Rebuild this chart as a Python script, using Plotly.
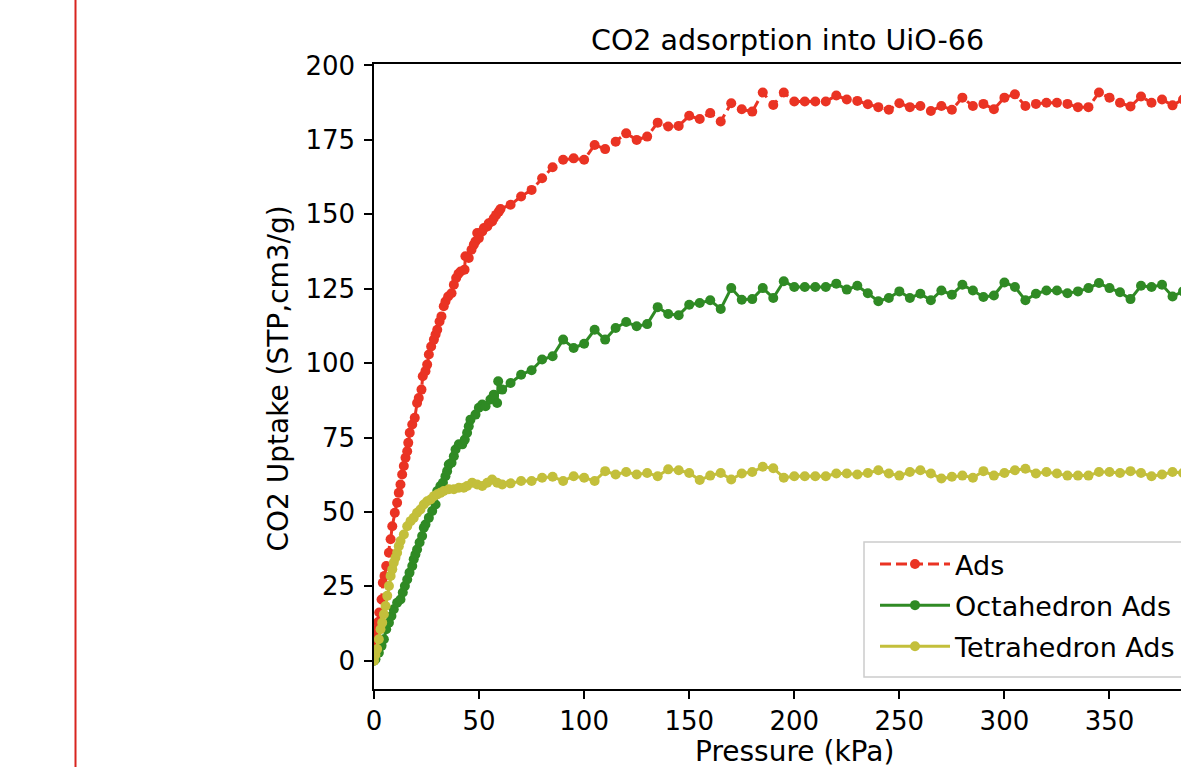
import plotly.graph_objects as go

# ---------------- data ----------------
ads_x = [0.0, 0.7, 1.3, 2.0, 2.5, 3.6, 4.2, 5.0, 5.8, 7.1, 7.9, 8.7, 9.9, 11.0, 11.8,
         12.6, 13.4, 14.2, 15.0, 15.8, 16.3, 17.0, 18.2, 19.4, 20.5, 21.3, 22.6, 23.2,
         24.5, 25.3, 26.1, 27.2, 28.5, 29.3, 30.1, 31.2, 32.1, 33.2, 34.0, 35.3, 36.9,
         38.0, 39.1, 40.2, 41.2, 43.1, 43.5, 45.1, 46.4, 47.5, 48.3, 49.1, 49.9, 51.5,
         52.3, 53.9, 54.6, 56.2, 57.0, 58.1, 59.4, 60.2,
         65, 70, 75, 80, 85, 90, 95, 100, 105, 110, 115, 120, 125, 130, 135, 140, 145,
         150, 155, 160, 165, 170, 175, 180, 185, 190, 195, 200, 205, 210, 215, 220, 225,
         230, 235, 240, 245, 250, 255, 260, 265, 270, 275, 280, 285, 290, 295, 300, 305,
         310, 315, 320, 325, 330, 335, 340, 345, 350, 355, 360, 365, 370, 375, 380, 385]
ads_y = [3.0, 8.3, 10.5, 13.0, 16.2, 20.6, 26.2, 28.5, 31.8, 36.3, 40.8, 45.2, 49.7, 53.1,
         56.4, 59.2, 62.6, 65.4, 68.2, 70.4, 73.2, 76.6, 79.4, 81.6, 86.6, 88.3, 91.1, 95.6,
         97.3, 99.5, 102.9, 105.6, 107.9, 109.6, 111.2, 114.0, 115.7, 119.1, 120.7, 122.4,
         123.5, 126.3, 128.6, 130.0, 130.8, 131.4, 135.9, 135.3, 138.1, 139.8, 140.9, 143.7,
         142.0, 144.2, 145.4, 145.9, 147.0, 147.6, 148.7, 149.8, 150.9, 151.8,
         153.2, 156.0, 158.2, 162.1, 165.8, 168.3, 168.8, 168.3, 173.3, 171.9, 174.4, 177.2,
         175.0, 176.1, 180.8, 179.5, 179.7, 183.1, 182.0, 184.0, 181.2, 187.3, 185.3, 184.5,
         190.9, 186.7, 190.9, 187.9, 187.9, 187.9, 187.9, 189.9, 188.6, 188.1, 187.0, 186.0,
         185.1, 187.3, 186.0, 186.4, 184.7, 186.4, 185.1, 189.2, 186.4, 187.1, 185.3, 189.2,
         190.3, 186.4, 187.1, 187.5, 187.5, 187.1, 186.0, 186.0, 190.9, 189.2, 187.5, 186.2,
         189.6, 187.5, 188.6, 186.6, 188.6]

octa_x = [0.0, 0.7, 2.3, 3.6, 4.7, 5.8, 7.1, 8.3, 9.4, 11.0, 12.6, 13.7, 14.7, 15.8, 16.9,
          18.2, 18.9, 19.7, 20.5, 21.7, 22.9, 23.7, 24.5, 26.1, 27.7, 29.3, 30.1, 31.6,
          32.8, 34.0, 34.8, 35.6, 36.9, 38.0, 38.8, 40.4, 42.0, 43.2, 44.3, 45.1, 45.9,
          48.3, 49.9, 51.5, 53.1, 55.4, 57.0, 58.6, 59.1, 61.0,
          65, 70, 75, 80, 85, 90, 95, 100, 105, 110, 115, 120, 125, 130, 135, 140, 145,
          150, 155, 160, 165, 170, 175, 180, 185, 190, 195, 200, 205, 210, 215, 220, 225,
          230, 235, 240, 245, 250, 255, 260, 265, 270, 275, 280, 285, 290, 295, 300, 305,
          310, 315, 320, 325, 330, 335, 340, 345, 350, 355, 360, 365, 370, 375, 380, 385]
octa_y = [0.0, 0.5, 2.7, 5.0, 7.2, 10.6, 12.8, 15.0, 17.3, 19.5, 20.6, 22.9, 25.1, 27.3,
          29.6, 31.8, 34.1, 35.7, 37.4, 39.7, 41.9, 44.7, 45.8, 48.0, 50.3, 52.5, 57.0, 58.7,
          59.8, 62.0, 63.7, 65.9, 66.5, 68.7, 71.0, 72.7, 72.7, 74.3, 76.6, 78.8, 81.0,
          82.7, 85.0, 86.1, 85.5, 87.8, 89.4, 86.6, 93.9, 91.1,
          93.3, 96.1, 97.6, 101.2, 102.3, 107.9, 105.1, 106.5, 111.2, 107.9, 111.8, 113.8,
          112.4, 113.1, 118.8, 116.5, 116.1, 119.6, 120.2, 121.1, 118.2, 125.2, 121.3, 121.5,
          125.2, 121.9, 127.5, 125.6, 125.6, 125.6, 125.6, 126.7, 124.7, 126.0, 123.5, 120.8,
          121.9, 124.1, 121.9, 123.3, 121.1, 124.4, 123.0, 126.3, 124.4, 122.2, 122.7, 127.1,
          125.6, 121.1, 123.3, 124.4, 124.4, 123.5, 124.1, 125.2, 126.9, 125.2, 123.8, 121.5,
          126.0, 125.6, 126.3, 122.4, 124.1]

tetra_x = [0.0, 0.7, 1.5, 2.3, 3.1, 3.9, 4.7, 5.5, 6.3, 7.1, 7.9, 8.7, 9.4, 10.2, 11.0,
           11.8, 12.6, 14.2, 15.8, 17.4, 18.9, 20.5, 22.1, 23.7, 25.3, 26.9, 28.5, 30.1,
           31.6, 33.2, 35.6, 38.0, 40.4, 42.7, 44.3, 46.7, 49.1, 51.5, 53.9, 56.2, 58.6, 61.0,
           65, 70, 75, 80, 85, 90, 95, 100, 105, 110, 115, 120, 125, 130, 135, 140, 145,
           150, 155, 160, 165, 170, 175, 180, 185, 190, 195, 200, 205, 210, 215, 220, 225,
           230, 235, 240, 245, 250, 255, 260, 265, 270, 275, 280, 285, 290, 295, 300, 305,
           310, 315, 320, 325, 330, 335, 340, 345, 350, 355, 360, 365, 370, 375, 380, 385]
tetra_y = [0.0, 2.0, 3.9, 7.2, 10.6, 12.8, 15.6, 18.4, 21.8, 25.1, 28.5, 30.7, 32.9, 34.6,
           36.3, 38.5, 40.2, 42.4, 45.2, 46.9, 48.0, 49.7, 50.8, 52.5, 53.6, 54.2, 55.3, 55.9,
           56.4, 57.0, 57.6, 57.6, 58.1, 58.1, 58.7, 59.8, 59.2, 58.7, 59.8, 60.9, 59.8, 59.2,
           59.6, 60.4, 60.4, 61.5, 61.8, 60.4, 62.0, 61.5, 60.4, 63.7, 62.6, 63.4, 62.6, 63.1,
           62.0, 64.3, 64.0, 63.1, 60.7, 62.2, 63.1, 60.9, 62.9, 63.4, 65.2, 64.7, 61.5, 62.0,
           62.0, 62.0, 62.0, 62.9, 62.9, 62.6, 63.1, 64.0, 62.9, 62.2, 63.4, 64.0, 62.9, 61.2,
           61.8, 62.2, 61.5, 63.7, 62.2, 63.1, 64.0, 64.5, 62.9, 63.4, 62.9, 62.2, 62.2, 62.2,
           63.4, 63.4, 63.1, 63.7, 63.1, 62.0, 62.6, 63.4, 63.1]

series_names = ["Ads", "Octahedron Ads", "Tetrahedron Ads"]
x_ticks = [0, 50, 100, 150, 200, 250, 300, 350, 400]
y_ticks = [0, 25, 50, 75, 100, 125, 150, 175, 200]

# ---------------- styling ----------------
W, H = 1181, 767
L, R, T, B = 374, 0, 64, 78
PW, PH = W - L - R, H - T - B

def px_x(px):
    return (px - L) / PW

def px_y(py):
    return (H - B - py) / PH

FONT = "DejaVu Sans"
RED, GREEN, OLIVE = "#ea3323", "#2f8a24", "#c3bf3b"

fig = go.Figure()
fig.add_trace(go.Scatter(x=ads_x, y=ads_y, name=series_names[0], mode="lines+markers",
                         legendgroup="g1",
                         line=dict(color=RED, width=3, dash="11px,5px"),
                         marker=dict(color=RED, size=10)))
fig.add_trace(go.Scatter(x=octa_x, y=octa_y, name=series_names[1], mode="lines+markers",
                         legendgroup="g2",
                         line=dict(color=GREEN, width=3),
                         marker=dict(color=GREEN, size=10)))
fig.add_trace(go.Scatter(x=tetra_x, y=tetra_y, name=series_names[2], mode="lines+markers",
                         legendgroup="g3",
                         line=dict(color=OLIVE, width=3),
                         marker=dict(color=OLIVE, size=10)))

axis_common = dict(showgrid=False, zeroline=False, showline=True, linecolor="black",
                   linewidth=1.5, ticks="outside", ticklen=8, tickwidth=1.5,
                   tickcolor="black", tickfont=dict(family=FONT, size=26, color="black"))

fig.update_xaxes(range=[0, PW / 2.1014], tickvals=x_ticks, mirror=True, **axis_common)
fig.update_yaxes(range=[-9.5, 200.5], tickvals=y_ticks, mirror=False,
                 ticklabelstandoff=4, **axis_common)

fig.update_layout(
    width=W, height=H,
    margin=dict(l=L, r=R, t=T, b=B, pad=0),
    paper_bgcolor="white", plot_bgcolor="white",
    font=dict(family=FONT, color="black"),
    title=dict(text="CO2 adsorption into UiO-66", x=787.5 / W, xanchor="center",
               y=1 - 40 / H, yanchor="middle", font=dict(family=FONT, size=28.5, color="black")),
    showlegend=True,
    legend=dict(x=1.0, y=px_y(540), xanchor="right", yanchor="top",
                bgcolor="rgba(255,255,255,0)", borderwidth=0,
                font=dict(family=FONT, size=27, color="black"), itemwidth=70,
                tracegroupgap=3),
    annotations=[
        dict(text="Pressure (kPa)", xref="paper", yref="paper", x=px_x(794), y=px_y(751),
             xanchor="center", yanchor="middle", showarrow=False, height=30,
             valign="middle", borderpad=0,
             font=dict(family=FONT, size=28, color="black")),
        dict(text="CO2 Uptake (STP,cm3/g)", xref="paper", yref="paper", x=px_x(278),
             y=px_y(378.5), xanchor="center", yanchor="middle", textangle=-90,
             showarrow=False, font=dict(family=FONT, size=28, color="black")),
    ],
    shapes=[
        # legend frame (right side runs past the cropped edge, as in the reference)
        dict(type="rect", xref="paper", yref="paper", layer="above",
             x0=px_x(864), x1=px_x(1210), y0=px_y(677), y1=px_y(542),
             fillcolor="rgba(255,255,255,0.85)", line=dict(color="#cccccc", width=1.5)),
        dict(type="line", xref="paper", yref="paper", x0=px_x(75.5), x1=px_x(75.5),
             y0=px_y(H + 5), y1=px_y(-5), line=dict(color="#d8241f", width=2)),
    ],
)

fig.write_html("out.html", config={"displayModeBar": False},
               post_script="document.body.style.margin='0';document.body.style.overflow='hidden';")
